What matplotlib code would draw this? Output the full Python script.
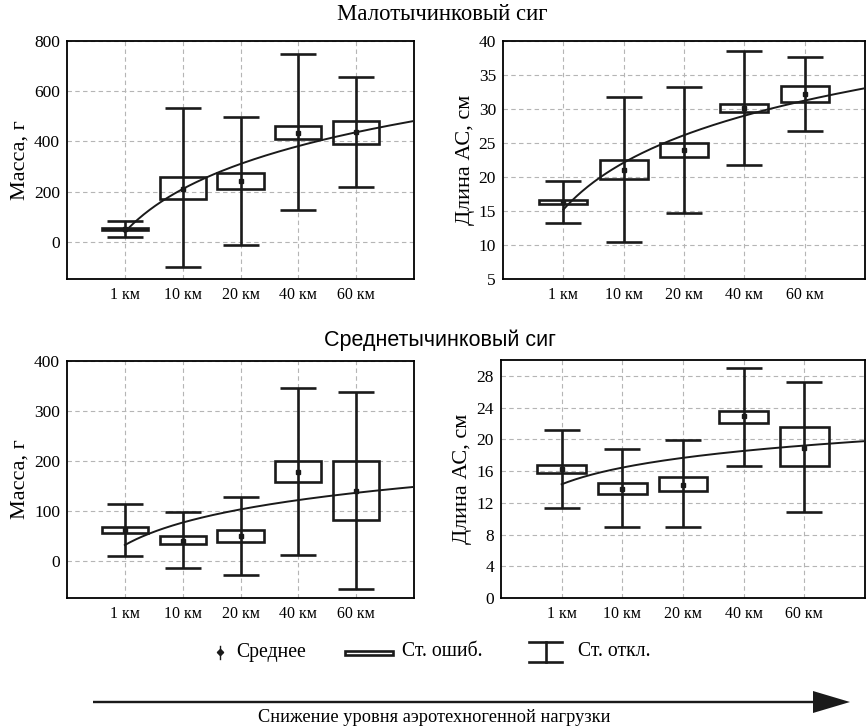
import numpy as np
import matplotlib
matplotlib.use("Agg")
import matplotlib.pyplot as plt
from matplotlib.patches import Rectangle, FancyArrow

plt.rcParams['font.family'] = ['Liberation Serif', 'DejaVu Serif']

# Sampling sites (distance from the smelter)
categories = ["1 км", "10 км", "20 км", "40 км", "60 км"]

# Малотычинковый сиг — масса, г
m1_mean = [53, 212, 241, 435, 437]
m1_se_lo = [48, 171, 212, 411, 391]
m1_se_hi = [56, 257, 275, 460, 483]
m1_sd_lo = [19, -102, -12, 125, 220]
m1_sd_hi = [85, 533, 497, 747, 655]

# Малотычинковый сиг — длина АС, см
l1_mean = [16.3, 21.1, 24.0, 30.1, 32.2]
l1_se_lo = [16.1, 19.7, 22.9, 29.5, 31.1]
l1_se_hi = [16.6, 22.5, 25.05, 30.8, 33.4]
l1_sd_lo = [13.2, 10.5, 14.75, 21.8, 26.8]
l1_sd_hi = [19.4, 31.7, 33.2, 38.5, 37.7]

# Среднетычинковый сиг — масса, г
m2_mean = [61, 40, 49, 177, 140]
m2_se_lo = [56, 33, 37, 158, 81]
m2_se_hi = [67, 49, 61, 199, 199]
m2_sd_lo = [10, -15, -29, 11, -57]
m2_sd_hi = [114, 97, 127, 346, 338]

# Среднетычинковый сиг — длина АС, см
l2_mean = [16.3, 13.8, 14.3, 22.9, 18.9]
l2_se_lo = [15.8, 13.1, 13.5, 22.0, 16.6]
l2_se_hi = [16.8, 14.5, 15.2, 23.6, 21.5]
l2_sd_lo = [11.4, 9.0, 8.9, 16.6, 10.8]
l2_sd_hi = [21.2, 18.8, 19.9, 29.05, 27.2]

W, H = 868, 728
fig = plt.figure(figsize=(W / 100, H / 100), dpi=100)


def px_axes(l, t, r, b):
    return fig.add_axes([l / W, 1 - b / H, (r - l) / W, (b - t) / H])


def panel(ax, mean, se_lo, se_hi, sd_lo, sd_hi, ylim, yticks, ylabel):
    x = np.arange(1, len(categories) + 1)
    mean = np.asarray(mean, float)
    se_lo = np.asarray(se_lo, float)
    se_hi = np.asarray(se_hi, float)
    sd_lo = np.asarray(sd_lo, float)
    sd_hi = np.asarray(sd_hi, float)

    ax.set_xlim(0, 6)
    ax.set_ylim(*ylim)
    ax.set_yticks(yticks)
    ax.set_xticks(x)
    ax.set_xticklabels(categories)
    ax.grid(True, color='#b5b5b5', lw=0.8, ls=(0, (4, 3)))
    ax.set_axisbelow(True)
    ax.tick_params(length=0, labelsize=12.5, pad=5)
    ax.tick_params(axis='x', labelsize=11.5, pad=6)
    for s in ax.spines.values():
        s.set_linewidth(1.3)
    ax.set_ylabel(ylabel, fontsize=16, labelpad=3)

    # standard deviation whiskers
    ax.errorbar(x, mean, yerr=[mean - sd_lo, sd_hi - mean], fmt='none',
                ecolor='#1a1a1a', elinewidth=1.9, capsize=13.3, capthick=1.9,
                zorder=3)
    # standard error boxes
    ax.bar(x, se_hi - se_lo, bottom=se_lo, width=0.8, fill=False,
           edgecolor='#1a1a1a', lw=1.9, zorder=4)
    # means
    ax.plot(x, mean, 's', color='#1a1a1a', ms=3.5, zorder=5)
    # logarithmic trend of the means
    b, a = np.polyfit(np.log(x), mean, 1)
    xt = np.linspace(1, 6, 200)
    ax.plot(xt, a + b * np.log(xt), color='#1a1a1a', lw=1.4, zorder=6)


ax1 = px_axes(67, 41, 414, 279)
panel(ax1, m1_mean, m1_se_lo, m1_se_hi, m1_sd_lo, m1_sd_hi,
      (-148, 800), np.arange(0, 801, 200), "Масса, г")
ax2 = px_axes(503, 41, 865, 279)
panel(ax2, l1_mean, l1_se_lo, l1_se_hi, l1_sd_lo, l1_sd_hi,
      (5, 40), np.arange(5, 41, 5), "Длина АС, см")
ax3 = px_axes(67, 361, 414, 598)
panel(ax3, m2_mean, m2_se_lo, m2_se_hi, m2_sd_lo, m2_sd_hi,
      (-75, 400), np.arange(0, 401, 100), "Масса, г")
ax4 = px_axes(501, 360, 865, 598)
panel(ax4, l2_mean, l2_se_lo, l2_se_hi, l2_sd_lo, l2_sd_hi,
      (0, 30), np.arange(0, 29, 4), "Длина АС, см")

fig.text(442 / W, 1 - 15 / H, "Малотычинковый сиг", ha='center', va='center',
         fontsize=16.4)
fig.text(440 / W, 1 - 340 / H, "Среднетычинковый сиг", ha='center', va='center',
         fontsize=15.5, family=['Liberation Sans', 'DejaVu Sans'])

# legend and direction arrow on a pixel-scaled overlay
ov = fig.add_axes([0, 0, 1, 1], zorder=10)
ov.set_xlim(0, W)
ov.set_ylim(H, 0)
ov.axis('off')
ov.patch.set_alpha(0)

ov.plot([220, 220], [646, 659], color='#1a1a1a', lw=1.0)
ov.plot(220, 652, 'D', color='#1a1a1a', ms=3.2)
ov.text(236, 652, "Среднее", va='center', fontsize=14.2)
ov.add_patch(Rectangle((345, 650.5), 48, 4.5, fill=False, ec='#1a1a1a', lw=1.9))
ov.text(402, 652, "Ст. ошиб.", va='center', fontsize=14.2)
ov.plot([529, 562], [642, 642], color='#1a1a1a', lw=1.9)
ov.plot([529, 562], [662, 662], color='#1a1a1a', lw=1.9)
ov.plot([545.5, 545.5], [642, 662], color='#1a1a1a', lw=1.9)
ov.text(578, 652, "Ст. откл.", va='center', fontsize=14.2)

ov.add_patch(FancyArrow(93, 702, 757, 0, width=2.4, head_width=22,
                        head_length=37, length_includes_head=True,
                        color='#1a1a1a', lw=0))
ov.text(434, 717, "Снижение уровня аэротехногенной нагрузки", ha='center',
        va='center', fontsize=13.2)

fig.savefig("out.png", dpi=100)
